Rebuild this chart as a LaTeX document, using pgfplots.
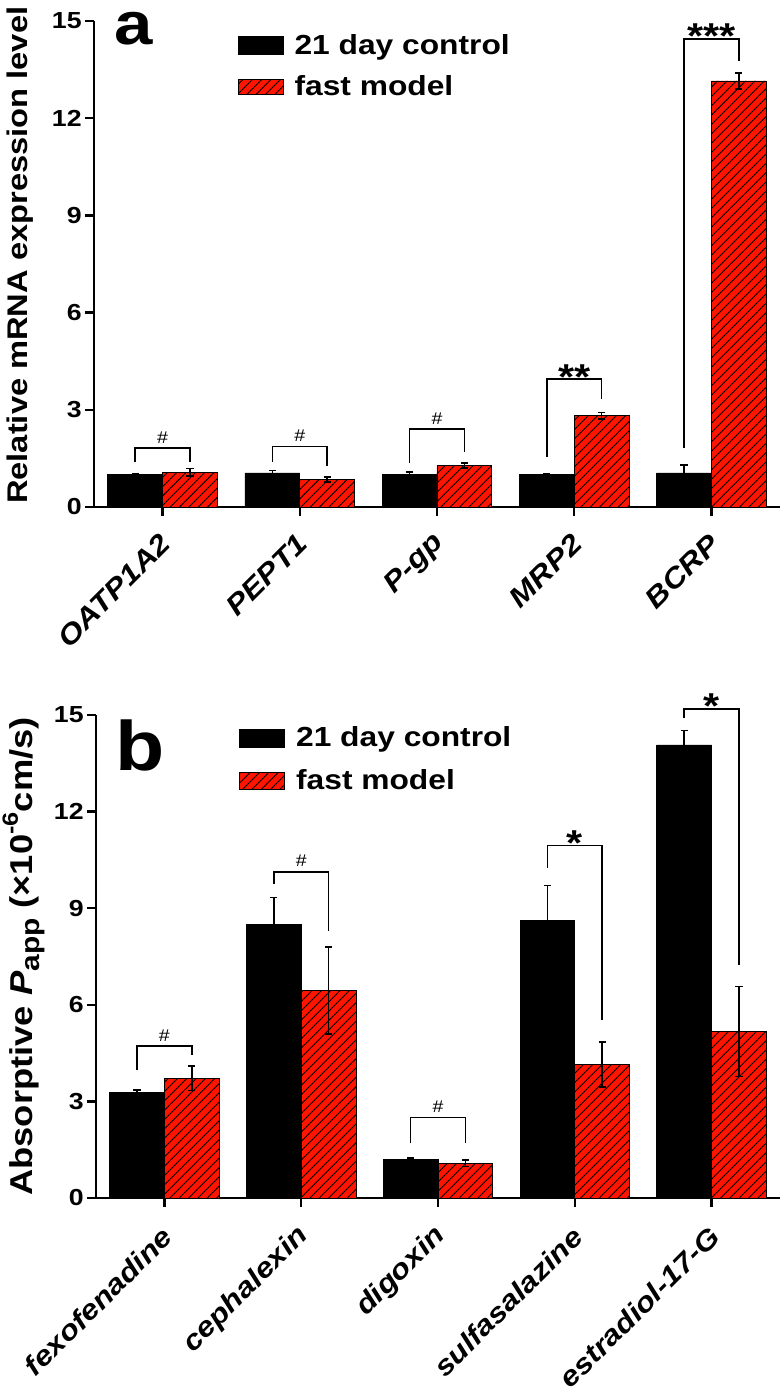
\documentclass[border=0pt]{standalone}
\usepackage{fontspec}
\setmainfont{Liberation Sans}[FakeStretch=1.15]
\usepackage{pgfplots}
\pgfplotsset{compat=1.18}
\usetikzlibrary{patterns.meta}

\definecolor{barred}{RGB}{255,20,0}

\tikzset{
  sharp/.style={font=\fontsize{8.5}{9}\selectfont, anchor=base, yshift=2.5pt, inner sep=0pt},
  stars/.style={font=\bfseries\fontsize{18}{18}\selectfont, anchor=base, yshift=-5pt, inner sep=0pt},
}

\pgfplotsset{
  panel/.style={
    scale only axis,
    axis lines*=left,
    axis line style={line width=1.2pt, black},
    xmin=-0.5, xmax=4.5, ymin=0, ymax=15,
    ytick={0,3,6,9,12,15},
    xtick={0,1,2,3,4},
    tick align=outside,
    major tick length=4.5pt,
    tick style={line width=1.2pt, black},
    minor tick num=0,
    clip=false,
    /pgf/number format/assume math mode=true,
    yticklabel style={font=\bfseries\fontsize{11.6}{12}\selectfont, inner sep=1.5pt},
    legend style={draw=none, fill=none, inner sep=0pt, anchor=north west,
      font=\bfseries\fontsize{13.8}{14}\selectfont, row sep=5pt,
      /tikz/every odd column/.style={column sep=3.5pt}},
    legend cell align=left,
  },
  blackbar/.style={ybar, bar width=0.4, fill=black, draw=black, line width=0.4pt,
    error bars/.cd, y dir=both, y explicit,
    error bar style={line width=0.8pt, black},
    error mark options={rotate=90, mark size=1.8pt, line width=0.8pt, black}},
  redbar/.style={ybar, bar width=0.4, fill=barred, draw=black, line width=0.4pt,
    postaction={pattern={Lines[angle=45,distance=3.3pt,line width=0.45pt]}, pattern color=black},
    error bars/.cd, y dir=both, y explicit,
    error bar style={line width=0.8pt, black},
    error mark options={rotate=90, mark size=1.8pt, line width=0.8pt, black}},
  bracket/.style={black, line width=0.75pt, forget plot, mark=none},
}

\begin{document}
\begin{tikzpicture}
\useasboundingbox (0,0) rectangle (391pt,698pt);

% ---------------- panel a ----------------
\begin{axis}[panel,
  at={(47pt,444.5pt)}, anchor=south west,
  width=343pt, height=243pt,
  xticklabels={OATP1A2, PEPT1, P-gp, MRP2, BCRP},
  xticklabel style={font=\bfseries\itshape\fontsize{14}{14}\selectfont, yshift=-9pt, xshift=4pt, rotate=45, anchor=east},
  ylabel={\bfseries Relative mRNA expression level},
  ylabel style={at={(axis description cs:-0.107,0.518)}, anchor=center, font=\bfseries\fontsize{14.2}{14.2}\selectfont},
  legend style={at={(axis description cs:0.209,0.982)}},
]
\addlegendimage{legend image code/.code={\draw[fill=black,draw=black] (0pt,-4.6pt) rectangle (22.5pt,4.6pt);}}
\addlegendentry{21 day control}
\addlegendimage{legend image code/.code={\draw[fill=barred,draw=black,line width=0.4pt,postaction={pattern={Lines[angle=45,distance=3.3pt,line width=0.45pt]}, pattern color=black}] (0pt,-3.8pt) rectangle (22.5pt,3.8pt);}}
\addlegendentry{fast model}

\addplot[forget plot, blackbar] coordinates {
  (-0.2,1.00) +- (0,0.03)
  (0.8,1.05)  +- (0,0.08)
  (1.8,1.00)  +- (0,0.08)
  (2.8,1.00)  +- (0,0.03)
  (3.8,1.05)  +- (0,0.25)
};
\addplot[forget plot, redbar] coordinates {
  (0.2,1.07)  +- (0,0.12)
  (1.2,0.85)  +- (0,0.07)
  (2.2,1.28)  +- (0,0.08)
  (3.2,2.82)  +- (0,0.10)
  (4.2,13.15) +- (0,0.25)
};

\addplot[bracket] coordinates {(-0.2,1.40) (-0.2,1.82) (0.2,1.82) (0.2,1.40)};
\addplot[bracket] coordinates {(0.8,1.40) (0.8,1.86) (1.2,1.86) (1.2,1.27)};
\addplot[bracket] coordinates {(1.8,1.35) (1.8,2.40) (2.2,2.40) (2.2,1.70)};
\addplot[bracket] coordinates {(2.8,1.55) (2.8,3.95) (3.2,3.95) (3.2,3.32)};
\addplot[bracket] coordinates {(3.8,1.82) (3.8,14.45) (4.2,14.45) (4.2,13.75)};

\node[sharp] at (axis cs:0,1.82) {\#};
\node[sharp] at (axis cs:1,1.86) {\#};
\node[sharp] at (axis cs:2,2.40) {\#};
\node[stars] at (axis cs:3,3.95) {**};
\node[stars] at (axis cs:4,14.45) {***};

\node[anchor=base west, inner sep=0pt, font=\bfseries\fontsize{30}{30}\selectfont] at (axis description cs:0.030,0.951) {a};
\end{axis}

% ---------------- panel b ----------------
\begin{axis}[panel,
  at={(48pt,99pt)}, anchor=south west,
  width=342pt, height=241.5pt,
  xticklabels={fexofenadine, cephalexin, digoxin, sulfasalazine, estradiol-17-G},
  xticklabel style={font=\bfseries\itshape\fontsize{13.8}{13.8}\selectfont, yshift=-10pt, xshift=4pt, rotate=45, anchor=east},
  ylabel={\bfseries Absorptive \textit{P}\raisebox{-0.22em}{\fontsize{13}{13}\selectfont app} (×10\raisebox{0.45em}{\fontsize{11}{11}\selectfont -6}cm/s)},
  ylabel style={at={(axis description cs:-0.106,0.50)}, anchor=center, font=\bfseries\fontsize{15.8}{15.8}\selectfont},
  legend style={at={(axis description cs:0.209,0.985)}, row sep=6pt},
]
\addlegendimage{legend image code/.code={\draw[fill=black,draw=black] (0pt,-4.6pt) rectangle (22.5pt,4.6pt);}}
\addlegendentry{21 day control}
\addlegendimage{legend image code/.code={\draw[fill=barred,draw=black,line width=0.4pt,postaction={pattern={Lines[angle=45,distance=3.3pt,line width=0.45pt]}, pattern color=black}] (0pt,-4.2pt) rectangle (22.5pt,4.2pt);}}
\addlegendentry{fast model}

\addplot[forget plot, blackbar] coordinates {
  (-0.2,3.27) +- (0,0.08)
  (0.8,8.50)  +- (0,0.83)
  (1.8,1.21)  +- (0,0.03)
  (2.8,8.63)  +- (0,1.07)
  (3.8,14.07) +- (0,0.45)
};
\addplot[forget plot, redbar] coordinates {
  (0.2,3.72) +- (0,0.38)
  (1.2,6.44) +- (0,1.35)
  (2.2,1.08) +- (0,0.10)
  (3.2,4.15) +- (0,0.70)
  (4.2,5.17) +- (0,1.40)
};

\addplot[bracket] coordinates {(-0.2,3.97) (-0.2,4.72) (0.2,4.72) (0.2,4.44)};
\addplot[bracket] coordinates {(0.8,9.74) (0.8,10.13) (1.2,10.13) (1.2,8.30)};
\addplot[bracket] coordinates {(1.8,1.70) (1.8,2.50) (2.2,2.50) (2.2,1.70)};
\addplot[bracket] coordinates {(2.8,10.26) (2.8,10.94) (3.2,10.94) (3.2,5.53)};
\addplot[bracket] coordinates {(3.8,14.90) (3.8,15.19) (4.2,15.19) (4.2,7.24)};

\node[sharp] at (axis cs:0,4.72) {\#};
\node[sharp] at (axis cs:1,10.13) {\#};
\node[sharp] at (axis cs:2,2.50) {\#};
\node[stars] at (axis cs:3,10.94) {*};
\node[stars] at (axis cs:4,15.19) {*};

\node[anchor=base west, inner sep=0pt, font=\bfseries\fontsize{35}{35}\selectfont] at (axis description cs:0.028,0.886) {b};
\end{axis}
\end{tikzpicture}
\end{document}
